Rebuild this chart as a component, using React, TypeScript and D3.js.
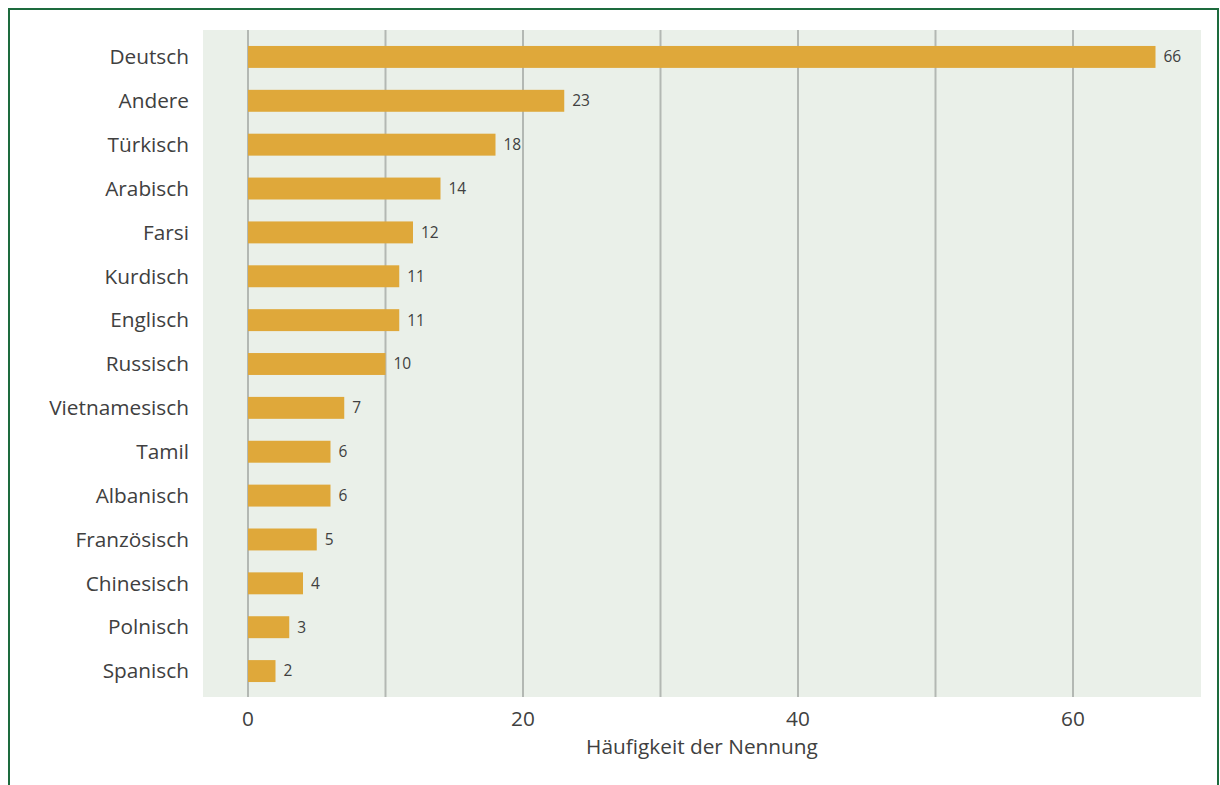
import React from "react";
import * as d3 from "d3";

const categories = ["Deutsch","Andere","Türkisch","Arabisch","Farsi","Kurdisch","Englisch","Russisch","Vietnamesisch","Tamil","Albanisch","Französisch","Chinesisch","Polnisch","Spanisch"];
const values = [66,23,18,14,12,11,11,10,7,6,6,5,4,3,2];
const ticks = [0,20,40,60];
const gridTicks = [0,10,20,30,40,50,60];
const axisTitle = "Häufigkeit der Nennung";

const FONT = "'Open Sans', 'Noto Sans', sans-serif";

export default function App() {
  const W = 1220, H = 785;
  const x = d3.scaleLinear().domain([0, 60]).range([248, 1073]);
  const y = d3.scaleBand<string>().domain(categories).range([35, 693]).paddingInner(0.5).paddingOuter(0.25);
  const plot = { left: 203, right: 1201, top: 30, bottom: 697 };
  return (
    <svg width={W} height={H} style={{ position: "absolute", left: 0, top: 0 }}>
      <rect x={0} y={0} width={W} height={H} fill="#fff" />
      <rect x={9} y={9} width={1209} height={H} fill="none" stroke="#1d6b3d" strokeWidth={2} />
      <rect x={plot.left} y={plot.top} width={plot.right - plot.left} height={plot.bottom - plot.top} fill="#eaf0e9" />
      {gridTicks.map(t => (
        <line key={t} x1={x(t)} x2={x(t)} y1={plot.top} y2={plot.bottom} stroke="#b3b8b3" strokeWidth={2} />
      ))}
      {categories.map((c, i) => {
        const yy = y(c)!;
        const bh = y.bandwidth();
        return (
          <g key={c}>
            <rect x={x(0)} y={yy} width={x(values[i]) - x(0)} height={bh} fill="#dfa83a" />
            <text x={189} y={yy + bh / 2} dy="0.35em" textAnchor="end" fontFamily={FONT} fontSize={20.8} fill="#404040">{c}</text>
            <text x={x(values[i]) + 8} y={yy + bh / 2} dy="0.35em" fontFamily={FONT} fontSize={15.5} fill="#404040">{values[i]}</text>
          </g>
        );
      })}
      {ticks.map(t => (
        <text key={t} x={x(t)} y={726} textAnchor="middle" fontFamily={FONT} fontSize={20.8} fill="#404040">{t}</text>
      ))}
      <text x={702} y={754} textAnchor="middle" fontFamily={FONT} fontSize={20.8} fill="#404040">{axisTitle}</text>
    </svg>
  );
}
